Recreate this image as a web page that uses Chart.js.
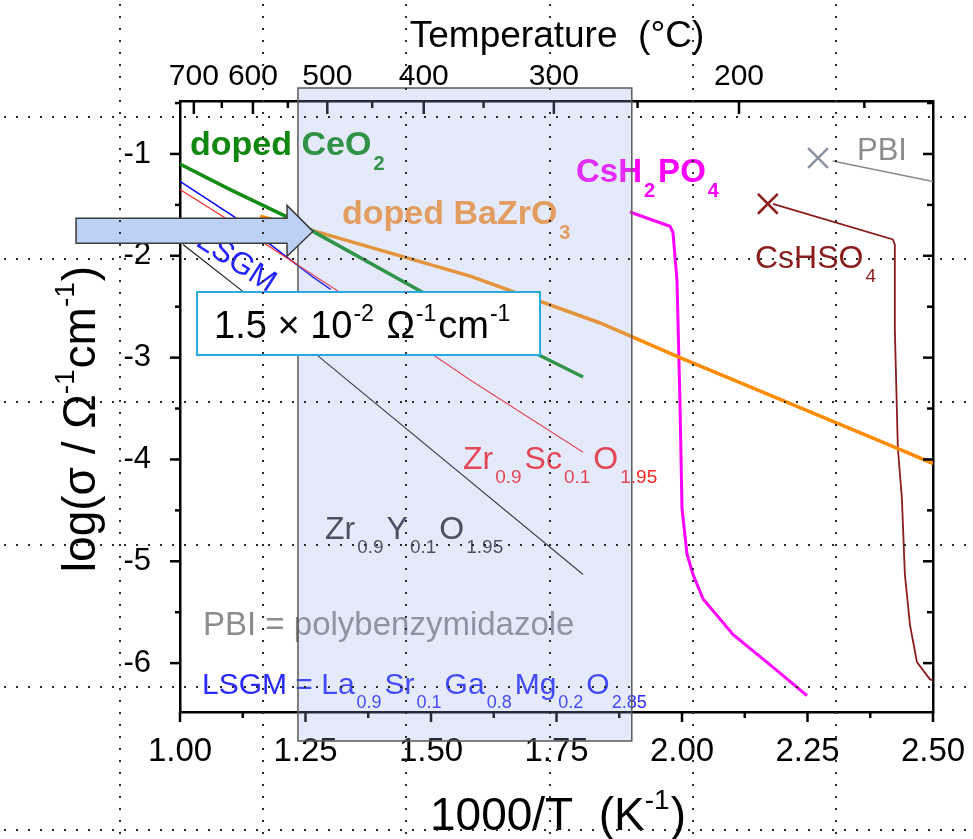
<!DOCTYPE html>
<html>
<head>
<meta charset="utf-8">
<script src="https://cdn.jsdelivr.net/npm/chart.js@4.4.1/dist/chart.umd.min.js"></script>
<style>
html,body{margin:0;padding:0;background:#ffffff;overflow:hidden;}
#wrap{position:relative;width:973px;height:839px;}
canvas{display:block;}
</style>
</head>
<body>
<div id="wrap"><canvas id="chart" width="973" height="839"></canvas></div>
<script>
// ---------------- data ----------------
const xTicks = [1.00, 1.25, 1.50, 1.75, 2.00, 2.25, 2.50];
const xMinorTicks = [1.125, 1.375, 1.625, 1.875, 2.125, 2.375];
const yTicks = [-1, -2, -3, -4, -5, -6];
const yMinorTicks = [-0.5, -1.5, -2.5, -3.5, -4.5, -5.5];
const tempTicksC = [700, 600, 500, 400, 300, 200];
const tempMinorTicksC = [650, 550, 450, 350, 250, 150];

const ceo2X = [1.00, 1.10, 1.21, 1.265, 1.484, 1.697, 1.803];
const ceo2Y = [-1.10, -1.35, -1.61, -1.76, -2.36, -2.93, -3.19];

const bazro3X = [1.16, 1.263, 1.578, 1.837, 1.996, 2.235, 2.434, 2.50];
const bazro3Y = [-1.61, -1.75, -2.20, -2.66, -3.00, -3.49, -3.90, -4.04];

const zrscX = [1.00, 1.084, 1.303, 1.512, 1.578, 1.803];
const zrscY = [-1.35, -1.61, -2.31, -3.00, -3.22, -3.93];

const lsgmX = [1.00, 1.106, 1.265, 1.30];
const lsgmY = [-1.27, -1.61, -2.21, -2.33];

const zryX = [1.006, 1.12, 1.279, 1.803];
const zryY = [-1.89, -2.33, -3.00, -5.13];

const csh2po4X = [1.896, 1.976, 1.982, 1.990, 1.996, 2.000, 2.010, 2.022, 2.042, 2.102, 2.169, 2.249];
const csh2po4Y = [-1.57, -1.71, -1.77, -2.24, -3.45, -4.48, -4.93, -5.13, -5.37, -5.72, -5.99, -6.32];

const cshso4X = [2.181, 2.420, 2.424, 2.424, 2.430, 2.438, 2.444, 2.454, 2.468, 2.494, 2.500];
const cshso4Y = [-1.49, -1.84, -1.89, -2.73, -3.89, -4.38, -5.13, -5.62, -5.99, -6.16, -6.17];

const pbiX = [2.30, 2.50];
const pbiY = [-1.07, -1.27];

const cshso4MarkX = [2.171];
const cshso4MarkY = [-1.49];
const pbiMarkX = [2.271];
const pbiMarkY = [-1.04];

const highlightBand = [1.235, 1.90];       // shaded 1000/T window
const arrowTarget = [1.265, -1.76];        // where the arrow points
// ------------------------------------------------------------------

const FONT = '"Liberation Sans", Arial, Helvetica, sans-serif';
const pts = (xs, ys) => xs.map((x, i) => ({x: x, y: ys[i]}));

const lineSeries = [
  {label: 'doped CeO2', data: pts(ceo2X, ceo2Y), borderColor: '#128c12', borderWidth: 3.5},
  {label: 'doped BaZrO3', data: pts(bazro3X, bazro3Y), borderColor: '#ff8c00', borderWidth: 3.5},
  {label: 'Zr0.9Sc0.1O1.95', data: pts(zrscX, zrscY), borderColor: '#ff2a2a', borderWidth: 1.2},
  {label: 'LSGM', data: pts(lsgmX, lsgmY), borderColor: '#0000ff', borderWidth: 1.4},
  {label: 'Zr0.9Y0.1O1.95', data: pts(zryX, zryY), borderColor: '#1e1e1e', borderWidth: 1.2},
  {label: 'CsH2PO4', data: pts(csh2po4X, csh2po4Y), borderColor: '#ff00ff', borderWidth: 3},
  {label: 'CsHSO4', data: pts(cshso4X, cshso4Y), borderColor: '#8b1c1c', borderWidth: 1.8},
  {label: 'PBI', data: pts(pbiX, pbiY), borderColor: '#8a8a8a', borderWidth: 1.5}
];
const markerSeries = [
  {label: 'CsHSO4 end', data: pts(cshso4MarkX, cshso4MarkY), borderColor: '#8b1c1c'},
  {label: 'PBI end', data: pts(pbiMarkX, pbiMarkY), borderColor: '#8c93a0'}
];

const datasets = lineSeries.map(s => Object.assign({}, s, {
  showLine: true, pointRadius: 0, fill: false, tension: 0, xAxisID: 'x', yAxisID: 'y'
})).concat(markerSeries.map(s => Object.assign({}, s, {
  showLine: false, pointStyle: 'crossRot', pointRadius: 14, borderWidth: 2.5,
  backgroundColor: 'transparent', xAxisID: 'x', yAxisID: 'y'
})));

function drawRich(ctx, segs, x, y, size, color, opts) {
  opts = opts || {};
  const bold = !!opts.bold, align = opts.align || 'left';
  const subScale = opts.subScale || 0.6;
  const gapB = opts.gapBefore != null ? opts.gapBefore : 2;
  const gapA = opts.gapAfter != null ? opts.gapAfter : 3;
  const items = segs.map(seg => {
    const k = seg[1] || 0;
    const s = k ? Math.round(size * subScale) : size;
    ctx.font = (bold ? 'bold ' : '') + s + 'px ' + FONT;
    return {t: seg[0], k: k, s: s, w: ctx.measureText(seg[0]).width};
  });
  let total = 0;
  items.forEach((it, i) => {
    if (it.k) total += gapB;
    total += it.w;
    if (it.k && i < items.length - 1) total += gapA;
  });
  let cx = align === 'center' ? x - total / 2 : (align === 'right' ? x - total : x);
  ctx.fillStyle = color;
  ctx.textAlign = 'left';
  ctx.textBaseline = 'alphabetic';
  items.forEach((it, i) => {
    if (it.k) cx += gapB;
    ctx.font = (bold ? 'bold ' : '') + it.s + 'px ' + FONT;
    const dy = it.k === 1 ? size * (opts.subDy || 0.44) : (it.k === 2 ? -size * (opts.supDy || 0.45) : 0);
    ctx.fillText(it.t, cx, y + dy);
    cx += it.w;
    if (it.k && i < items.length - 1) cx += gapA;
  });
}

const seriesLabels = [
  {segs: [['doped CeO'], ['2', 1]], at: [1.020, -1.010], size: 34, color: '#108810', bold: true},
  {segs: [['doped BaZrO'], ['3', 1]], at: [1.3227, -1.6917], size: 34, color: '#ff9933', bold: true},
  {segs: [['CsH'], ['2', 1], ['PO'], ['4', 1]], at: [1.7888, -1.2767], size: 33, color: '#ff00ff', bold: true},
  {segs: [['PBI']], at: [2.3486, -1.0593], size: 31, color: '#8c8c8c'},
  {segs: [['CsHSO'], ['4', 1]], at: [2.1454, -2.1166], size: 32, color: '#8b1c1c'},
  {segs: [['Zr'], ['0.9', 1], ['Sc'], ['0.1', 1], ['O'], ['1.95', 1]], at: [1.5637, -4.0929], size: 32, color: '#ff2424'},
  {segs: [['Zr'], ['0.9', 1], ['Y'], ['0.1', 1], ['O'], ['1.95', 1]], at: [1.2888, -4.7846], size: 32, color: '#333333'},
  {segs: [['PBI = polybenzymidazole']], at: [1.0458, -5.7283], size: 33, color: '#8c8c8c'},
  {segs: [['LSGM = La'], ['0.9', 1], ['Sr'], ['0.1', 1], ['Ga'], ['0.8', 1], ['Mg'], ['0.2', 1], ['O'], ['2.85', 1]], at: [1.0438, -6.3063], size: 30, color: '#2a2aff'}
];

function line(ctx, x1, y1, x2, y2) {
  ctx.beginPath(); ctx.moveTo(x1, y1); ctx.lineTo(x2, y2); ctx.stroke();
}

const decor = {
  id: 'decor',
  afterDatasetsDraw(chart) {
    const ctx = chart.ctx, xs = chart.scales.x, ys = chart.scales.y, a = chart.chartArea;
    ctx.save();
    // tick marks
    ctx.strokeStyle = '#000'; ctx.lineWidth = 2.5; ctx.lineCap = 'butt';
    xTicks.forEach(v => { const p = xs.getPixelForValue(v); line(ctx, p, a.bottom, p, a.bottom + 10); });
    xMinorTicks.forEach(v => { const p = xs.getPixelForValue(v); line(ctx, p, a.bottom, p, a.bottom + 6); });
    tempTicksC.forEach(c => { const p = xs.getPixelForValue(1000 / (c + 273.15)); line(ctx, p, a.top, p, a.top + 13); });
    tempMinorTicksC.forEach(c => { const p = xs.getPixelForValue(1000 / (c + 273.15)); line(ctx, p, a.top, p, a.top + 7); });
    yTicks.forEach(v => { const p = ys.getPixelForValue(v); line(ctx, a.left - 10, p, a.left, p); line(ctx, a.right - 10, p, a.right, p); });
    yMinorTicks.forEach(v => { const p = ys.getPixelForValue(v); line(ctx, a.left - 5, p, a.left, p); line(ctx, a.right - 6, p, a.right, p); });

    // series labels
    seriesLabels.forEach(l => {
      drawRich(ctx, l.segs, xs.getPixelForValue(l.at[0]), ys.getPixelForValue(l.at[1]), l.size, l.color, {bold: l.bold});
    });
    // rotated LSGM label
    ctx.save();
    ctx.translate(xs.getPixelForValue(1.1116), ys.getPixelForValue(-2.0573));
    ctx.rotate(33 * Math.PI / 180);
    ctx.font = '31px ' + FONT; ctx.fillStyle = '#2222ff';
    ctx.textAlign = 'center'; ctx.textBaseline = 'middle';
    ctx.fillText('LSGM', 0, 0);
    ctx.restore();

    // highlight band (semi-transparent overlay)
    const bx1 = xs.getPixelForValue(highlightBand[0]), bx2 = xs.getPixelForValue(highlightBand[1]);
    const by1 = a.top - 13, by2 = a.bottom + 29;
    ctx.fillStyle = 'rgba(147,171,235,0.25)';
    ctx.fillRect(bx1, by1, bx2 - bx1, by2 - by1);
    ctx.strokeStyle = '#5a5a5a'; ctx.lineWidth = 1.5;
    ctx.strokeRect(bx1, by1, bx2 - bx1, by2 - by1);

    // callout box
    ctx.fillStyle = '#ffffff';
    ctx.fillRect(197, 292, 343, 63);
    ctx.strokeStyle = '#27aae1'; ctx.lineWidth = 2;
    ctx.strokeRect(197, 292, 343, 63);
    drawRich(ctx, [['1.5 \u00d7 10'], ['-2', 2], [' \u03a9'], ['-1', 2], ['cm'], ['-1', 2]], 214, 338, 38, '#000000', {gapBefore: 1, gapAfter: 2});

    // arrow
    const tx = xs.getPixelForValue(arrowTarget[0]), ty = ys.getPixelForValue(arrowTarget[1]);
    ctx.beginPath();
    ctx.moveTo(tx - 237, ty - 13);
    ctx.lineTo(tx - 26, ty - 13);
    ctx.lineTo(tx - 26, ty - 26);
    ctx.lineTo(tx, ty);
    ctx.lineTo(tx - 26, ty + 25);
    ctx.lineTo(tx - 26, ty + 12);
    ctx.lineTo(tx - 237, ty + 12);
    ctx.closePath();
    ctx.fillStyle = '#bdd0f5'; ctx.fill();
    ctx.strokeStyle = '#3c3c3c'; ctx.lineWidth = 1.5; ctx.stroke();
    ctx.restore();
  },
  afterDraw(chart) {
    const ctx = chart.ctx, a = chart.chartArea;
    ctx.save();
    // axis titles
    drawRich(ctx, [['Temperature  (\u00b0C)']], 557, 47, 37, '#000', {align: 'center'});
    drawRich(ctx, [['1000/T  (K'], ['-1', 2], [')']], 558, 830, 46, '#000', {align: 'center', gapBefore: 0, gapAfter: 1});
    ctx.save();
    ctx.translate(95, 419);
    ctx.rotate(-Math.PI / 2);
    drawRich(ctx, [['log(\u03c3 / \u03a9'], ['-1', 2], ['cm'], ['-1', 2], [')']], 0, 0, 46, '#000', {align: 'center', gapBefore: 0, gapAfter: 1});
    ctx.restore();
    // page dotted grid
    ctx.fillStyle = '#2a2a2a';
    for (let k = 0; k < 6; k++) {
      const gx = Math.round(120 + 143.2 * k);
      for (let y = 4; y < 839; y += 12) ctx.fillRect(gx - 1, y, 2, 2);
      const gy = Math.round(116.5 + 142.7 * k);
      for (let x = 4; x < 973; x += 12) ctx.fillRect(x, gy - 1, 2, 2);
    }
    ctx.restore();
  }
};

const tickFont = (s) => ({family: FONT, size: s});
const borderOpt = {display: true, color: '#000', width: 2.5};
const noPad = s => { s.paddingLeft = 0; s.paddingRight = 0; s.paddingTop = 0; s.paddingBottom = 0; };

new Chart(document.getElementById('chart').getContext('2d'), {
  type: 'scatter',
  data: {datasets: datasets},
  options: {
    responsive: false,
    animation: false,
    devicePixelRatio: 1,
    events: [],
    layout: {padding: 0},
    plugins: {legend: {display: false}, title: {display: false}, tooltip: {enabled: false}},
    scales: {
      x: {
        type: 'linear', position: 'bottom', min: 1.0, max: 2.5,
        afterBuildTicks: s => { s.ticks = xTicks.map(v => ({value: v})); },
        afterFit: s => { s.height = 127; noPad(s); },
        grid: {display: false}, border: borderOpt,
        ticks: {autoSkip: false, maxRotation: 0, padding: 12, color: '#000', font: tickFont(33),
                callback: v => Number(v).toFixed(2)}
      },
      xTop: {
        type: 'linear', position: 'top', min: 1.0, max: 2.5,
        afterBuildTicks: s => { s.ticks = tempTicksC.map(c => ({value: 1000 / (c + 273.15)})); },
        afterFit: s => { s.height = 101; noPad(s); },
        grid: {display: false}, border: borderOpt,
        ticks: {autoSkip: false, maxRotation: 0, padding: -2, color: '#000', font: tickFont(30),
                callback: (v, i) => String(tempTicksC[i])}
      },
      y: {
        type: 'linear', position: 'left', min: -6.48, max: -0.48,
        afterBuildTicks: s => { s.ticks = yTicks.map(v => ({value: v})); },
        afterFit: s => { s.width = 180; noPad(s); },
        grid: {display: false}, border: borderOpt,
        ticks: {autoSkip: false, padding: 21, color: '#000', font: tickFont(31),
                callback: v => String(v)}
      },
      yRight: {
        type: 'linear', position: 'right', min: -6.48, max: -0.48,
        afterFit: s => { s.width = 40; noPad(s); },
        grid: {display: false}, border: borderOpt,
        ticks: {display: false}
      }
    }
  },
  plugins: [decor]
});
</script>
</body>
</html>
